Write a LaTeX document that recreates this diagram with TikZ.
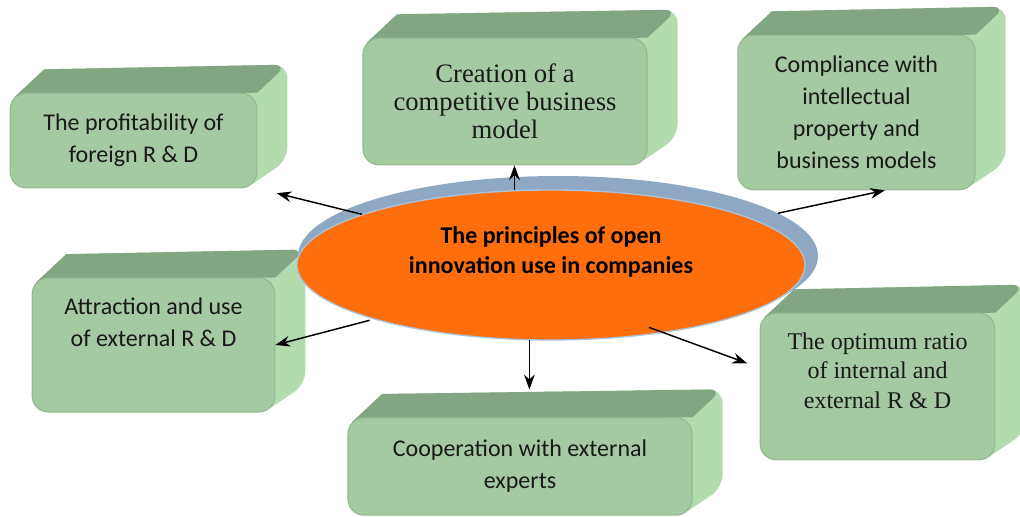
\documentclass[tikz,border=0pt]{standalone}
\usepackage{fontspec}
\setmainfont{Carlito}
\newfontfamily\timesfont{Liberation Serif}
\usetikzlibrary{shapes.geometric,arrows.meta,calc}
\usetikzlibrary{backgrounds}

\definecolor{facegreen}{HTML}{A4CAA1}
\definecolor{rimgreen}{HTML}{93B890}
\definecolor{topgreen}{HTML}{82A582}
\definecolor{sidegreen}{HTML}{B3DCAE}
\definecolor{coreorange}{HTML}{FF6E0C}
\definecolor{halogrey}{HTML}{8EA8C3}
\definecolor{haloedge}{HTML}{A9C3DD}

\begin{document}
\begin{tikzpicture}[x=0.75pt, y=-0.75pt, every node/.style={inner sep=0pt},
  slab/.style={rectangle, rounded corners=12pt, fill=facegreen, draw=rimgreen, line width=0.8pt,
    align=center, text=black!90, font=\fontsize{18}{24}\selectfont},
  serifslab/.style={slab, font=\timesfont\fontsize{18}{22}\selectfont},
  pointer/.style={-{Stealth[length=11pt,width=8pt]}, line width=1.1pt}]
  \useasboundingbox (0,0) rectangle (1020,517);

  % the centre
  \node[ellipse, fill=halogrey, minimum width=390pt, minimum height=120pt] (halo) at (558,256) {};
  \node[ellipse, fill=coreorange, draw=haloedge, line width=1pt, minimum width=381pt, minimum height=112.5pt] (core) at (551,265) {};
  \node[align=center, font=\bfseries\fontsize{18}{23}\selectfont] (coretext) at (551,252) {The principles of open\\innovation use in companies};

  % the six principles
  \node[slab, minimum width=185pt, minimum height=71pt] (b1) at (133.5,140.5) {The profitability of\\foreign R \& D};
  \node[serifslab, minimum width=213pt, minimum height=95pt, font=\timesfont\fontsize{20}{21}\selectfont] (b2) at (505,101.5) {Creation of a\\competitive business\\model};
  \node[slab, minimum width=178pt, minimum height=116pt] (b3) at (856.5,112.5) {Compliance with\\intellectual\\property and\\business models};
  \node[slab, minimum width=182pt, minimum height=100.5pt] (b4) at (153.5,345) {Attraction and use\\of external R \& D\\\rule{0pt}{33pt}};
  \node[serifslab, minimum width=176pt, minimum height=110pt] (b5) at (877.5,386.5) {The optimum ratio\\of internal and\\external R \& D\\\rule{0pt}{23pt}};
  \node[slab, minimum width=258pt, minimum height=73pt] (b6) at (520,466.5) {Cooperation with external\\experts};

  % depth of the boxes
  \begin{scope}[on background layer]
    \foreach \i in {1,...,6} {
      \coordinate (b\i-nw) at ($(b\i.north west)+(3.5pt,-3.5pt)$);
      \coordinate (b\i-se) at ($(b\i.south east)+(-3.5pt,3.5pt)$);
      \fill[sidegreen] (b\i.center) -- (b\i-nw) -- ++(30,-28) [rounded corners=10pt] -- ($(b\i.north east)+(30,-28)$) -- ($(b\i.south east)+(30,-28)$) [sharp corners] -- (b\i-se) -- cycle;
      \fill[topgreen] (b\i-nw) -- ++(30,-28) [rounded corners=10pt] -- ($(b\i.north east)+(30,-28)$) [sharp corners] -- (b\i.north east) -- cycle;
      \coordinate (b\i-top) at ($(b\i.north)+(30,-28)$);
    }
  \end{scope}

  % arrows
  \draw[pointer, shorten >=15pt] (core.165) -- (b1.south east);
  \draw[pointer] (core.116) -- (core.116 |- b2.south);
  \draw[pointer] (halo.11) -- (b3.-70);
  \draw[pointer, shorten <=3pt] (core.197) -- (b4.east);
  \draw[pointer, shorten <=-12pt, shorten >=10pt] (core.-31) -- (b5.171);
  \draw[pointer] (core.-106) -- (core.-106 |- b6-top);
\end{tikzpicture}
\end{document}
